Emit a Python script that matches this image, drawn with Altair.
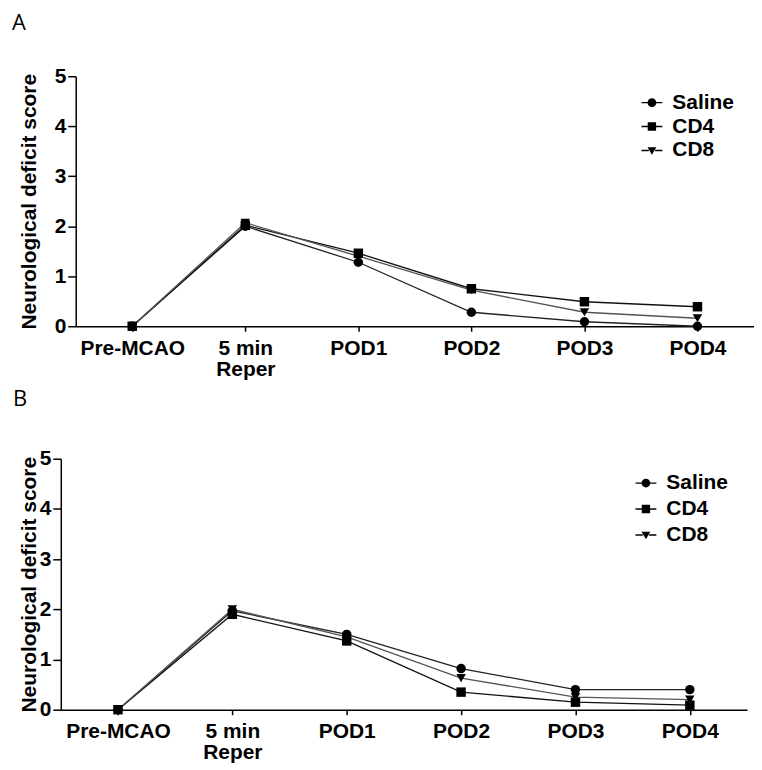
import altair as alt
import pandas as pd

categories = ["Pre-MCAO", "5 min Reper", "POD1", "POD2", "POD3", "POD4"]
groups = ["Saline", "CD4", "CD8"]

# Panel A
a_saline = [0.0, 2.00, 1.28, 0.28, 0.09, 0.00]
a_cd4 = [0.0, 2.02, 1.46, 0.75, 0.49, 0.39]
a_cd8 = [0.0, 2.07, 1.40, 0.72, 0.28, 0.16]

# Panel B
b_saline = [0.0, 1.97, 1.50, 0.82, 0.40, 0.40]
b_cd4 = [0.0, 1.90, 1.37, 0.35, 0.15, 0.09]
b_cd8 = [0.0, 2.00, 1.45, 0.63, 0.25, 0.20]

FONT = "Liberation Sans"
FS = 21

# legend glyphs: short line segments either side of the marker (filled shapes)
legend_paths = [
    "M-1,-0.07H-0.3V0.07H-1Z M0.3,-0.07H1V0.07H0.3Z "
    "M0.42,0A0.42,0.42,0,1,1,-0.42,0A0.42,0.42,0,1,1,0.42,0Z",
    "M-1,-0.07H-0.3V0.07H-1Z M0.3,-0.07H1V0.07H0.3Z "
    "M-0.4,-0.4H0.4V0.4H-0.4Z",
    "M-1,-0.07H-0.3V0.07H-1Z M0.3,-0.07H1V0.07H0.3Z "
    "M-0.42,-0.3L0.42,-0.3L0,0.42Z",
]


def panel(label, s, c4, c8, width, x_range, axis_offset, height, title_dx, title_off,
          title_pad, legend_x, legend_y, row_pad):
    df = pd.DataFrame({
        "time": categories * 3,
        "group": [g for g in groups for _ in categories],
        "score": s + c4 + c8,
    })
    x = alt.X(
        "time:N", sort=categories,
        scale=alt.Scale(type="point", padding=0.5, range=x_range),
        axis=alt.Axis(
            title=None, labelAngle=0, tickSize=5, labelPadding=6,
            labelExpr="datum.value == '5 min Reper' ? ['5 min', 'Reper'] : datum.value",
            labelLineHeight=21,
        ),
    )
    y = alt.Y(
        "score:Q",
        scale=alt.Scale(domain=[0, 5], nice=False),
        axis=alt.Axis(
            title="Neurological deficit score", values=[0, 1, 2, 3, 4, 5], format="d",
            tickSize=8, labelPadding=2, titlePadding=title_pad, offset=axis_offset,
            titleFont=FONT, titleFontSize=21, titleFontWeight="bold", titleColor="black",
        ),
    )
    lines = alt.Chart(df).mark_line(strokeWidth=1.3).encode(
        x=x, y=y, detail="group:N",
        color=alt.Color("group:N", scale=alt.Scale(domain=groups, range=["#222222", "#111111", "#555555"]), legend=None),
    )
    points = alt.Chart(df).mark_point(filled=True, color="black", opacity=1, size=90).encode(
        x=x, y=y,
        shape=alt.Shape("group:N", scale=alt.Scale(domain=groups, range=["circle", "square", "triangle-down"]), legend=None),
    )
    leg = alt.Chart(df).transform_filter("false").mark_point(
        filled=True, color="black", opacity=1, size=440
    ).encode(
        x=x, y=y,
        shape=alt.Shape(
            "group:N",
            scale=alt.Scale(domain=groups, range=legend_paths),
            legend=alt.Legend(
                title=None, orient="none", legendX=legend_x, legendY=legend_y,
                symbolSize=440, symbolFillColor="black", symbolOpacity=1,
                labelFont=FONT, labelFontSize=FS,
                labelFontWeight="bold", labelColor="black", labelOffset=9,
                rowPadding=row_pad, padding=0,
            ),
        ),
    )
    return alt.layer(lines, points, leg).resolve_scale(shape="independent").properties(
        width=width, height=height,
        title=alt.TitleParams(
            text=label, anchor="start", frame="group", dx=title_dx, fontSize=22,
            font="Open Sans", fontWeight="normal", color="black", offset=title_off,
        ),
    )


chart_a = panel("A", a_saline, a_cd4, a_cd8, 696, [15, 696], -15, 251, -49, 30, 15, 582, 15, 2)
chart_b = panel("B", b_saline, b_cd4, b_cd8, 689, [0, 689], 0, 252, -48, 37, 0, 576, 13, 4)

chart = alt.vconcat(chart_a, chart_b, spacing=9).properties(
    padding={"left": 4, "top": 3, "right": 0, "bottom": 0}
).configure_view(stroke=None).configure_axis(
    grid=False, domainColor="black", domainWidth=1.5, tickColor="black", tickWidth=1.5,
    labelFont=FONT, labelFontSize=FS, labelFontWeight="bold", labelColor="black",
)

chart.save("out.html", embed_options={"renderer": "svg", "actions": False})
